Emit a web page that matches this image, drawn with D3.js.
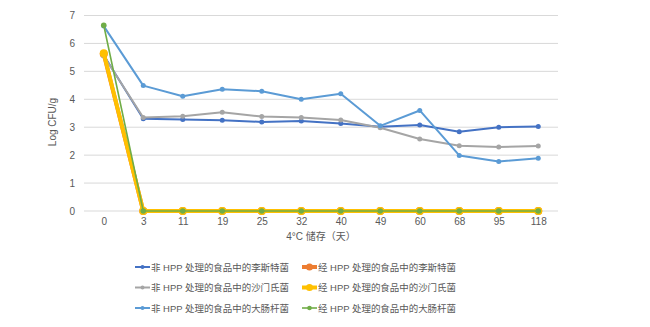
<!DOCTYPE html>
<html><head><meta charset="utf-8">
<script src="https://cdn.jsdelivr.net/npm/d3@7"></script>
<style>body{margin:0;background:#fff;} text{font-family:"Liberation Sans","Noto Sans CJK SC",sans-serif;}</style>
</head><body><svg id="c" width="650" height="327"></svg>
<script>
const days = ["0","3","11","19","25","32","40","49","60","68","95","118"];
const yTicks = [0,1,2,3,4,5,6,7];
const seriesNames = [
  "非 HPP 处理的食品中的李斯特菌",
  "经 HPP 处理的食品中的李斯特菌",
  "非 HPP 处理的食品中的沙门氏菌",
  "经 HPP 处理的食品中的沙门氏菌",
  "非 HPP 处理的食品中的大肠杆菌",
  "经 HPP 处理的食品中的大肠杆菌"
];
const listeriaRaw = [5.58,3.30,3.28,3.25,3.19,3.22,3.13,3.02,3.08,2.84,3.00,3.03];
const listeriaHPP = [5.62,0,0,0,0,0,0,0,0,0,0,0];
const salmonellaRaw = [5.55,3.35,3.39,3.54,3.38,3.35,3.26,2.98,2.58,2.34,2.29,2.33];
const salmonellaHPP = [5.65,0,0,0,0,0,0,0,0,0,0,0];
const ecoliRaw = [6.62,4.49,4.11,4.36,4.29,4.00,4.20,3.05,3.60,1.99,1.77,1.89];
const ecoliHPP = [6.65,0,0,0,0,0,0,0,0,0,0,0];
const colors = ["#4472c4","#ed7d31","#a5a5a5","#ffc000","#5b9bd5","#70ad47"];
const widths = [2,4,2,4,2,1.6];
const radii = [2.5,4,2.5,4,2.5,2.8];
const allData = [listeriaRaw,listeriaHPP,salmonellaRaw,salmonellaHPP,ecoliRaw,ecoliHPP];

const svg = d3.select("#c");
const x = d3.scalePoint().domain(days).range([84,558]).padding(0.5);
const y = d3.scaleLinear().domain([0,7]).range([211,15.5]);

svg.append("g").selectAll("line").data(yTicks).join("line")
  .attr("x1",84).attr("x2",558).attr("y1",d=>y(d)).attr("y2",d=>y(d))
  .attr("stroke","#d9d9d9").attr("stroke-width",1);

const ya = svg.append("g").attr("transform","translate(84,0)")
  .call(d3.axisLeft(y).tickValues(yTicks).tickFormat(d3.format("d")).tickSize(0).tickPadding(9));
ya.select(".domain").remove();
ya.selectAll("text").attr("fill","#595959").attr("font-size","10px").style("font-family","Liberation Sans, sans-serif");

const xa = svg.append("g").attr("transform","translate(0,211)")
  .call(d3.axisBottom(x).tickSize(0).tickPadding(7));
xa.select(".domain").remove();
xa.selectAll("text").attr("fill","#595959").attr("font-size","10px").style("font-family","Liberation Sans, sans-serif");

svg.append("text").attr("x",321).attr("y",240).attr("text-anchor","middle")
  .attr("fill","#595959").attr("font-size","10px").text("4°C 储存（天）");
svg.append("text").attr("transform","translate(56,122) rotate(-90)").attr("text-anchor","middle")
  .attr("fill","#595959").attr("font-size","10px").text("Log CFU/g");

const line = d3.line().x((d,i)=>x(days[i])).y(d=>y(d));
allData.forEach((data,k)=>{
  const g = svg.append("g");
  g.append("path").datum(data).attr("d",line).attr("fill","none")
    .attr("stroke",colors[k]).attr("stroke-width",widths[k]).attr("stroke-linejoin","round");
  g.selectAll("circle").data(data).join("circle")
    .attr("cx",(d,i)=>x(days[i])).attr("cy",d=>y(d)).attr("r",radii[k]).attr("fill",colors[k]);
});

const lg = svg.append("g");
seriesNames.forEach((name,k)=>{
  const col = k%2, row = Math.floor(k/2);
  const lx = col===0 ? 135 : 302;
  const ly = 267 + row*20.5;
  lg.append("line").attr("x1",lx).attr("x2",lx+15).attr("y1",ly).attr("y2",ly)
    .attr("stroke",colors[k]).attr("stroke-width",widths[k]);
  lg.append("circle").attr("cx",lx+7.5).attr("cy",ly).attr("r",radii[k]-0.5).attr("fill",colors[k]);
  lg.append("text").attr("x",lx+16).attr("y",ly+3.5).attr("fill","#595959").attr("font-size","9.5px")
    .attr("textLength",138).attr("lengthAdjust","spacingAndGlyphs").text(name);
});
</script></body></html>
